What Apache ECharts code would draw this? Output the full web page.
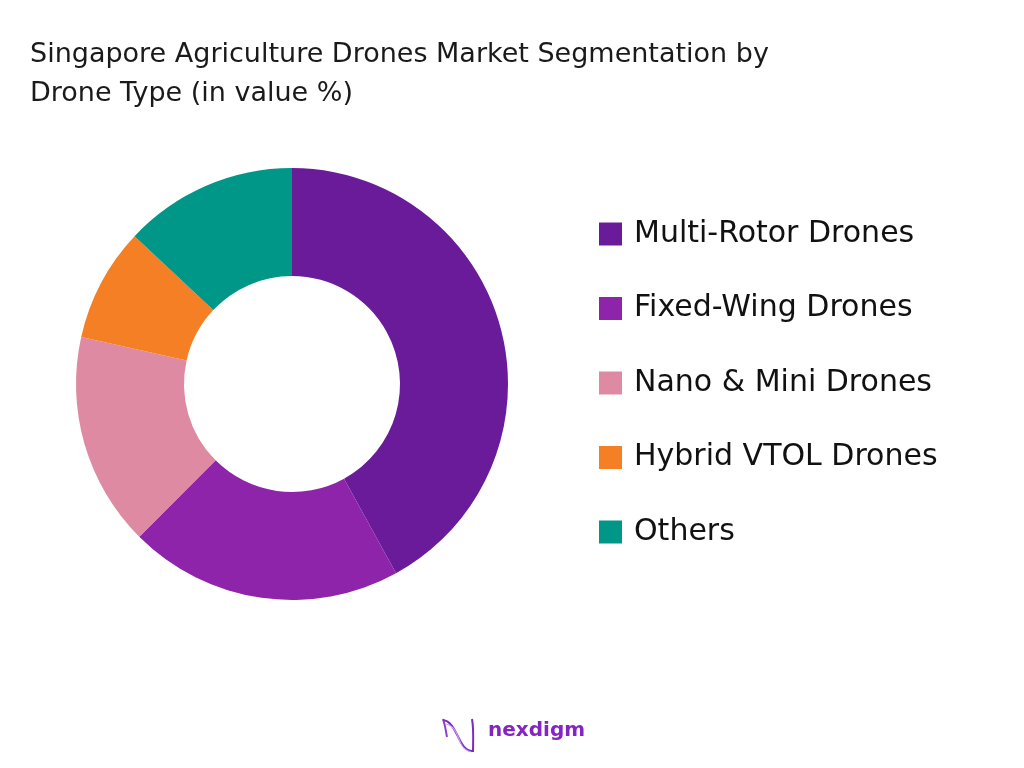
<!DOCTYPE html>
<html>
<head>
<meta charset="utf-8">
<script src="https://cdn.jsdelivr.net/npm/echarts@6/dist/echarts.min.js"></script>
<style>
html,body{margin:0;padding:0;background:#fff;}
#chart{width:1024px;height:768px;}
</style>
</head>
<body>
<div id="chart"></div>
<script>
const titleText = 'Singapore Agriculture Drones Market Segmentation by\nDrone Type (in value %)';
const categories = ['Multi-Rotor Drones', 'Fixed-Wing Drones', 'Nano & Mini Drones', 'Hybrid VTOL Drones', 'Others'];
const values = [42, 20.5, 16, 8.5, 13];
const colors = ['#6a1b9a', '#8e24aa', '#de8aa2', '#f47f24', '#009688'];

const chart = echarts.init(document.getElementById('chart'));
const data = categories.map((name, i) => ({ name: name, value: values[i], itemStyle: { color: colors[i] } }));

chart.setOption({
  backgroundColor: '#ffffff',
  animation: false,
  title: {
    text: titleText,
    left: 30,
    top: 35,
    padding: 0,
    textStyle: {
      fontFamily: 'DejaVu Sans',
      fontSize: 27,
      fontWeight: 'normal',
      color: '#1a1a1a',
      lineHeight: 39
    }
  },
  legend: {
    orient: 'vertical',
    left: 599,
    top: 219,
    padding: 0,
    itemWidth: 23,
    itemHeight: 23,
    itemGap: 44.5,
    icon: 'rect',
    data: categories,
    formatter: function (n) { return '{t|' + n + '}'; },
    textStyle: {
      fontFamily: 'DejaVu Sans',
      fontSize: 30,
      color: '#111111',
      lineHeight: 30,
      rich: {
        t: { fontFamily: 'DejaVu Sans', fontSize: 30, color: '#111111', lineHeight: 30, padding: [0, 0, 0, 7] }
      }
    }
  },
  series: [{
    type: 'pie',
    center: [292, 384],
    radius: [108, 216],
    startAngle: 90,
    clockwise: true,
    label: { show: false },
    labelLine: { show: false },
    emphasis: { disabled: true },
    itemStyle: { borderWidth: 0 },
    data: data
  }],
  graphic: [
    {
      type: 'bezierCurve',
      shape: { x1: 443, y1: 719, cpx1: 446, cpy1: 728, cpx2: 446, cpy2: 733, x2: 447, y2: 737 },
      style: { stroke: '#8a3fd1', lineWidth: 2, fill: null }
    },
    {
      type: 'bezierCurve',
      shape: { x1: 443, y1: 720, cpx1: 458, cpy1: 722, cpx2: 458, cpy2: 752, x2: 473, y2: 751 },
      style: { stroke: '#7b2cbf', lineWidth: 2, fill: null }
    },
    {
      type: 'bezierCurve',
      shape: { x1: 446, y1: 724, cpx1: 462, cpy1: 728, cpx2: 455, cpy2: 748, x2: 471, y2: 752 },
      style: { stroke: '#c9a3ef', lineWidth: 1.2, fill: null }
    },
    {
      type: 'bezierCurve',
      shape: { x1: 472, y1: 719, cpx1: 474, cpy1: 730, cpx2: 473, cpy2: 742, x2: 473, y2: 752 },
      style: { stroke: '#7b2cbf', lineWidth: 2, fill: null }
    },
    {
      type: 'text',
      left: 488,
      top: 721,
      style: {
        text: 'nexdigm',
        fontFamily: 'DejaVu Sans',
        fontWeight: 'bold',
        fontSize: 20,
        fill: '#8424c4'
      }
    }
  ]
});
</script>
</body>
</html>
